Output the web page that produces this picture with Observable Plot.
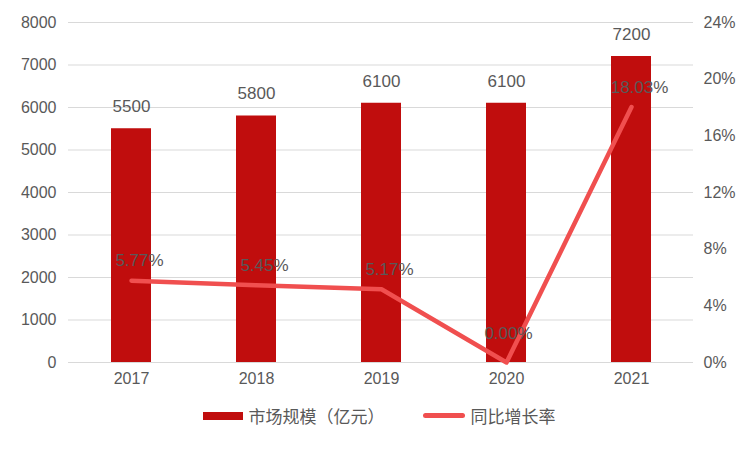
<!DOCTYPE html>
<html><head><meta charset="utf-8">
<script src="https://cdn.jsdelivr.net/npm/d3@7"></script>
<script src="https://cdn.jsdelivr.net/npm/@observablehq/plot@0.6"></script>
<style>
body{margin:0;background:#fff;font-family:"Liberation Sans","Noto Sans CJK SC",sans-serif;}
#legend{display:flex;justify-content:center;align-items:center;gap:38px;font-size:17px;color:#595959;margin-top:8px;margin-left:8px;}
.item{display:flex;align-items:center;gap:6px;}
</style></head>
<body><div id="chart"></div>
<div id="legend">
<div class="item"><span style="display:inline-block;width:40px;height:8px;background:#C00D0D"></span><span>市场规模（亿元）</span></div>
<div class="item"><span style="display:inline-block;width:42px;height:5px;border-radius:3px;background:#F04F4F"></span><span>同比增长率</span></div>
</div>
<script>
const years = ["2017","2018","2019","2020","2021"];
const marketSize = [5500,5800,6100,6100,7200];
const growth = [5.77,5.45,5.17,0.00,18.03];
const leftTicks = [0,1000,2000,3000,4000,5000,6000,7000,8000];
const rightTicks = [0,4,8,12,16,20,24];
const leftMax = 8000, rightMax = 24;
const toLeft = g => g * leftMax / rightMax;

const bars = years.map((y,i)=>({year:y, value:marketSize[i]}));
const line = years.map((y,i)=>({year:y, g:growth[i], v:toLeft(growth[i])}));

const chart = Plot.plot({
  width:750, height:395,
  marginTop:22, marginBottom:33, marginLeft:68, marginRight:57,
  style:{fontFamily:'"Liberation Sans","Noto Sans CJK SC",sans-serif', fontSize:"16px", color:"#595959"},
  x:{domain:years, paddingInner:0.68, paddingOuter:0.34, label:null},
  y:{domain:[0,leftMax], label:null},
  marks:[
    Plot.gridY(leftTicks.slice(1), {stroke:"#d9d9d9", strokeOpacity:1, strokeWidth:1}),
    Plot.ruleY([0], {stroke:"#d9d9d9", strokeWidth:1}),
    Plot.axisX({tickSize:0, tickPadding:10, fontSize:16, fill:"#595959"}),
    Plot.axisY({ticks:leftTicks, tickFormat:d=>String(d), tickSize:0, tickPadding:12, fontSize:16, fill:"#595959", label:null}),
    Plot.axisY({anchor:"right", ticks:rightTicks.map(toLeft), tickFormat:d=>Math.round(d*rightMax/leftMax)+"%", tickSize:0, tickPadding:10, fontSize:16, fill:"#595959", label:null}),
    Plot.barY(bars, {x:"year", y:"value", fill:"#C00D0D"}),
    Plot.text(bars, {x:"year", y:"value", text:d=>String(d.value), dy:-22, fontSize:17, fill:"#595959"}),
    Plot.line(line, {x:"year", y:"v", stroke:"#F04F4F", strokeWidth:4.5, strokeLinecap:"round", strokeLinejoin:"round"}),
    Plot.text(line.filter(d=>d.g!==0), {x:"year", y:"v", text:d=>d.g.toFixed(2)+"%", dx:8, dy:-20, fontSize:17, fill:"#595959"}),
    Plot.text(line.filter(d=>d.g===0), {x:"year", y:"v", text:d=>d.g.toFixed(2)+"%", dx:2, dy:-29, fontSize:17, fill:"#595959"})
  ]
});
document.getElementById("chart").append(chart);
</script></body></html>
